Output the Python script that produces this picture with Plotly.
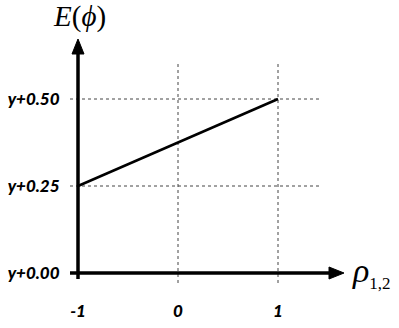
import plotly.graph_objects as go

# Data
rho = [-1, 1]
e_phi = [0.25, 0.50]
x_ticks = [-1, 0, 1]
x_ticktext = ["-1", "0", "1"]
y_ticks = [0.0, 0.25, 0.50]
y_ticktext = ["y+0.00", "y+0.25", "y+0.50"]

W, H = 399, 328
# pixel mapping: plot area left=70, right=399, top=0, bottom=283
x0_px, ppu_x = 78, 100.0
y0_px, ppu_y = 273, 348.0
L, R, T, B = 70, 399, 0, 283
x_range = [(L - x0_px) / ppu_x - 1, (R - x0_px) / ppu_x - 1]
y_range = [(y0_px - B) / ppu_y, (y0_px - T) / ppu_y]

def px2x(px):
    return (px - x0_px) / ppu_x - 1

def py2y(py):
    return (y0_px - py) / ppu_y

def pfx(px):
    return (px - L) / (R - L)

def pfy(py):
    return (B - py) / (B - T)

def tri(pts):
    return "M " + " L ".join(f"{px2x(a):.5f},{py2y(b):.5f}" for a, b in pts) + " Z"

fig = go.Figure()
fig.add_trace(go.Scatter(x=rho, y=e_phi, mode="lines",
                         line=dict(color="black", width=2.5), showlegend=False,
                         hoverinfo="skip"))

grid = dict(color="#444444", width=1, dash="dot")
for v in y_ticks[1:]:
    fig.add_shape(type="line", xref="x", yref="y", x0=px2x(70), x1=px2x(319),
                  y0=v, y1=v, line=grid, layer="below")
for v in x_ticks[1:]:
    fig.add_shape(type="line", xref="x", yref="y", x0=v, x1=v,
                  y0=py2y(283), y1=py2y(63), line=grid, layer="below")

# axis lines
fig.add_shape(type="line", xref="x", yref="y", x0=-1, x1=-1, y0=py2y(279), y1=py2y(50),
              line=dict(color="black", width=3.5))
fig.add_shape(type="line", xref="x", yref="y", x0=px2x(70), x1=px2x(333), y0=0, y1=0,
              line=dict(color="black", width=3.5))
# arrowheads
fig.add_shape(type="path", xref="x", yref="y", path=tri([(78, 39), (84, 54), (72, 54)]),
              fillcolor="black", line=dict(color="black", width=1))
fig.add_shape(type="path", xref="x", yref="y", path=tri([(344, 273), (329, 267), (329, 279)]),
              fillcolor="black", line=dict(color="black", width=1))

fig.add_annotation(x=pfx(79), y=pfy(17), xref="paper", yref="paper",
                   text="<i>E</i>(<i>ϕ</i>)", showarrow=False, xanchor="center", yanchor="middle",
                   font=dict(family="Liberation Serif", size=29, color="black"))

fig.add_annotation(x=pfx(350), y=pfy(272), xref="paper", yref="paper",
                   text="<i>ρ</i><sub><span style='font-size:17px'>1,2</span></sub>",
                   showarrow=False, xanchor="left", yanchor="middle",
                   font=dict(family="Liberation Serif", size=34, color="black"))

tickfont = dict(family="Lato", size=17, color="black", weight=900, style="italic")
fig.update_xaxes(range=x_range, tickvals=x_ticks, ticktext=x_ticktext, showgrid=False,
                 zeroline=False, showline=False, ticks="outside", ticklen=13,
                 tickcolor="rgba(0,0,0,0)", tickfont=tickfont, fixedrange=True)
fig.update_yaxes(range=y_range, tickvals=y_ticks, ticktext=y_ticktext, showgrid=False,
                 zeroline=False, showline=False, ticks="outside", ticklen=6,
                 tickcolor="rgba(0,0,0,0)", tickfont=tickfont, fixedrange=True)

fig.update_layout(width=W, height=H, margin=dict(l=L, r=W - R, t=T, b=H - B, pad=0),
                  plot_bgcolor="white", paper_bgcolor="white", showlegend=False)
fig.write_html("out.html")
